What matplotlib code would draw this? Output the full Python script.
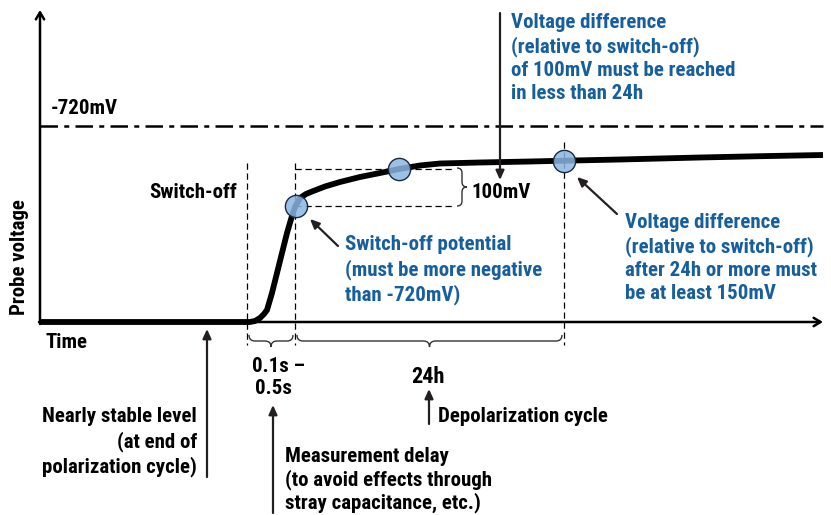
import numpy as np
import matplotlib
matplotlib.use("Agg")
import matplotlib.pyplot as plt
from matplotlib.path import Path
from matplotlib.patches import PathPatch
from matplotlib import font_manager as fm

# pick a condensed bold face if one is installed
cond = [f for f in fm.fontManager.ttflist
        if ('Condensed' in f.name or 'Narrow' in f.name or
            (isinstance(f.stretch, (int, float)) and f.stretch < 500) or
            f.stretch in ('condensed', 'semi-condensed', 'extra-condensed'))]
FAMILY = None
STRETCH = 'normal'
for f in cond:
    if f.name in ('Roboto Condensed', 'Liberation Sans Narrow', 'Open Sans Condensed'):
        FAMILY = f.name
        break
if FAMILY is None:
    for f in cond:
        if f.name == 'Noto Sans':
            FAMILY = 'Noto Sans'
            STRETCH = 'condensed'
            break
if FAMILY is None:
    FAMILY = 'Liberation Sans'
    FS = 13.0
else:
    FS = 15.0

plt.rcParams['font.family'] = [FAMILY, 'DejaVu Sans']
plt.rcParams['font.weight'] = 'bold'
plt.rcParams['font.stretch'] = STRETCH

# ---- data (diagram units: pixels, y downwards) ----
curve_t = [40, 250, 255, 260, 264, 267, 272, 277, 282, 287, 292, 295, 300, 306, 312,
           325, 340, 360, 380, 399, 420, 440, 480, 530, 564, 620, 700, 760, 823]
curve_v = [322, 322, 321, 318, 314, 310, 293, 273, 253, 233, 216, 207, 198, 194, 191.5,
           186.5, 182, 177, 173, 169, 165.5, 163.5, 162.5, 161.5, 160.7, 159.5, 157.5, 156.2, 155]
marker_t = [296, 399, 564]
marker_v = [206, 169, 161]
threshold_v = 126
threshold_label = "-720mV"
delay_start, delay_end, cycle_end = 247, 295, 564
diff_label = "100mV"

BLUE = '#175f9c'
DARK = '#231f20'
LS = 1.28

fig = plt.figure(figsize=(8.31, 5.15), dpi=100)
ax = fig.add_axes([0, 0, 1, 1])
ax.set_xlim(0, 831)
ax.set_ylim(515, 0)
ax.axis('off')

# axes with arrows
ax.annotate('', xy=(40, 10), xytext=(40, 324),
            arrowprops=dict(arrowstyle='->,head_length=0.5,head_width=0.3', lw=1.8, color='black',
                            shrinkA=0, shrinkB=0))
ax.annotate('', xy=(823, 322), xytext=(39, 322),
            arrowprops=dict(arrowstyle='->,head_length=0.5,head_width=0.3', lw=1.8, color='black',
                            shrinkA=0, shrinkB=0))

# threshold dash-dot line
ax.plot([40, 823], [threshold_v, threshold_v], color='black', lw=1.8,
        dashes=(7, 2.5, 2, 2.5), zorder=2)
ax.text(51, 108, threshold_label, fontsize=FS, color='black', va='center', ha='left')

# dashed verticals
dkw = dict(color='black', lw=0.9, dashes=(5, 3), zorder=1)
ax.plot([delay_start, delay_start], [163, 345], **dkw)
ax.plot([delay_end, delay_end], [163, 345], **dkw)
ax.plot([cycle_end, cycle_end], [142, 345], **dkw)
# dashed rectangle (100mV)
ax.plot([delay_end, 455], [169, 169], **dkw)
ax.plot([delay_end, 455], [206, 206], **dkw)


def hbrace(x0, x1, y, d, r=6):
    xm = (x0 + x1) / 2
    verts = [(x0, y), (x0, y + d / 2), (x0 + r, y + d / 2),
             (xm - r, y + d / 2),
             (xm, y + d / 2), (xm, y + d),
             (xm, y + d / 2), (xm + r, y + d / 2),
             (x1 - r, y + d / 2),
             (x1, y + d / 2), (x1, y)]
    codes = [Path.MOVETO, Path.CURVE3, Path.CURVE3, Path.LINETO,
             Path.CURVE3, Path.CURVE3, Path.CURVE3, Path.CURVE3, Path.LINETO,
             Path.CURVE3, Path.CURVE3]
    return PathPatch(Path(verts, codes), fill=False, lw=1.0, color='#333333')


def vbrace(x, y0, y1, d, r=5):
    ym = (y0 + y1) / 2
    verts = [(x, y0), (x + d / 2, y0), (x + d / 2, y0 + r),
             (x + d / 2, ym - r),
             (x + d / 2, ym), (x + d, ym),
             (x + d / 2, ym), (x + d / 2, ym + r),
             (x + d / 2, y1 - r),
             (x + d / 2, y1), (x, y1)]
    codes = [Path.MOVETO, Path.CURVE3, Path.CURVE3, Path.LINETO,
             Path.CURVE3, Path.CURVE3, Path.CURVE3, Path.CURVE3, Path.LINETO,
             Path.CURVE3, Path.CURVE3]
    return PathPatch(Path(verts, codes), fill=False, lw=1.0, color='#333333')


ax.add_patch(hbrace(delay_start + 2, delay_end - 2, 335, 12))
ax.add_patch(hbrace(delay_end + 2, cycle_end - 2, 335, 12))
ax.add_patch(vbrace(457, 168, 206, 10))

# curve and markers
ax.plot(curve_t, curve_v, color='black', lw=4.2, solid_capstyle='butt', zorder=3)
ax.plot(marker_t, marker_v, 'o', ms=16, mfc=(0.55, 0.71, 0.89, 0.85), mec='#1a2a3a',
        mew=1.0, zorder=4, ls='none')

# labels
ax.text(20, 257, 'Probe voltage', rotation=90, fontsize=FS, ha='center', va='center')
ax.text(45, 343, 'Time', fontsize=FS, ha='left', va='center')
ax.text(237, 193, 'Switch-off', fontsize=FS, ha='right', va='center')
ax.text(471, 193, diff_label, fontsize=FS, ha='left', va='center')
ax.text(278, 366, '0.1s \u2013', fontsize=FS, ha='center', va='center')
ax.text(273, 388, '0.5s', fontsize=FS, ha='center', va='center')
ax.text(428, 377, '24h', fontsize=FS + 1, ha='center', va='center')

akw = dict(arrowstyle='-|>,head_length=0.55,head_width=0.25', lw=1.6, color=DARK,
           shrinkA=0, shrinkB=0)
# top arrow
ax.annotate('', xy=(500, 180), xytext=(500, 13), arrowprops=akw)
ax.text(511, 58, 'Voltage difference\n(relative to switch-off)\nof 100mV must be reached\nin less than 24h',
        fontsize=FS, color=BLUE, ha='left', va='center', linespacing=LS)
# switch-off potential
ax.annotate('', xy=(310, 219), xytext=(338, 246), arrowprops=akw)
ax.text(345, 270, 'Switch-off potential\n(must be more negative\nthan -720mV)',
        fontsize=FS, color=BLUE, ha='left', va='center', linespacing=LS)
# right annotation
ax.annotate('', xy=(577, 177), xytext=(617, 214), arrowprops=akw)
ax.text(625, 258, 'Voltage difference\n(relative to switch-off)\nafter 24h or more must\nbe at least 150mV',
        fontsize=FS, color=BLUE, ha='left', va='center', linespacing=LS)
# bottom arrows
ax.annotate('', xy=(207, 329), xytext=(207, 477), arrowprops=akw)
ax.text(197, 442, 'Nearly stable level\n(at end of\npolarization cycle)',
        fontsize=FS, ha='right', va='center', linespacing=LS)
ax.annotate('', xy=(273, 405), xytext=(273, 513), arrowprops=akw)
ax.text(285, 480, 'Measurement delay\n(to avoid effects through\nstray capacitance, etc.)',
        fontsize=FS, ha='left', va='center', linespacing=1.18)
ax.annotate('', xy=(429, 389), xytext=(429, 424), arrowprops=akw)
ax.text(438, 417, 'Depolarization cycle', fontsize=FS, ha='left', va='center')

fig.savefig('out.png', dpi=100)
